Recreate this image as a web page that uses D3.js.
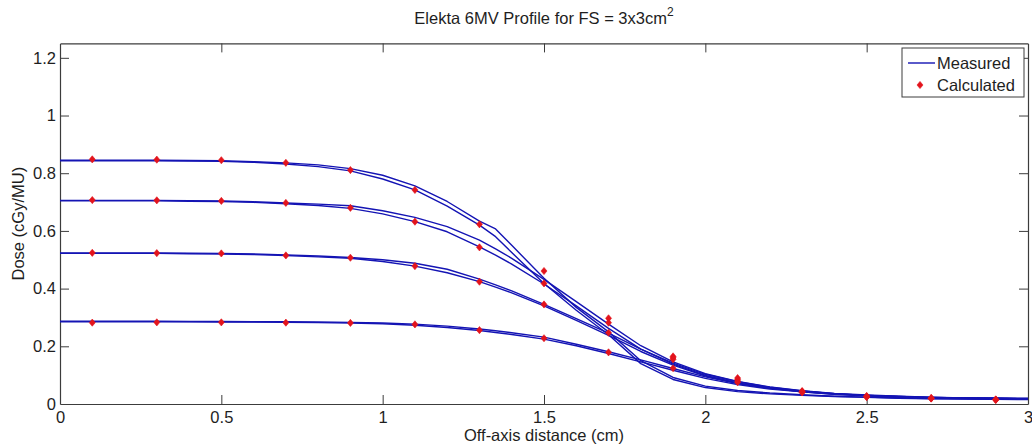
<!DOCTYPE html>
<html>
<head>
<meta charset="utf-8">
<script src="https://cdn.jsdelivr.net/npm/d3@7"></script>
<style>
  html, body { margin: 0; padding: 0; background: #fff; }
  svg { display: block; font-family: "Liberation Sans", Arial, sans-serif; }
</style>
</head>
<body>
<svg id="chart" width="1032" height="447"></svg>
<script>
// Off-axis sampling positions of the measured profiles (cm)
const measuredX = [0, 0.1, 0.2, 0.3, 0.4, 0.5, 0.6, 0.7, 0.8, 0.9, 1.0, 1.1, 1.2, 1.3, 1.35, 1.4, 1.5,
                   1.6, 1.7, 1.8, 1.9, 2.0, 2.1, 2.2, 2.3, 2.4, 2.5, 2.6, 2.7, 2.8, 2.9, 3.0];

// Measured dose profiles (cGy/MU), two scans per depth
const measured1a = [0.845,0.845,0.845,0.845,0.844,0.843,0.840,0.836,0.829,0.816,0.793,0.756,0.702,0.634,0.607,0.550,0.436,
                    0.335,0.250,0.150,0.092,0.062,0.047,0.038,0.032,0.027,0.024,0.021,0.019,0.018,0.017,0.016];
const measured1b = [0.843,0.843,0.843,0.843,0.842,0.841,0.838,0.832,0.823,0.808,0.780,0.742,0.686,0.620,0.580,0.525,0.418,
                    0.325,0.240,0.140,0.085,0.057,0.043,0.035,0.030,0.026,0.023,0.020,0.018,0.017,0.016,0.015];
const measured2a = [0.706,0.706,0.706,0.706,0.705,0.704,0.701,0.697,0.693,0.687,0.670,0.647,0.615,0.568,0.538,0.505,0.432,
                    0.355,0.277,0.202,0.146,0.105,0.078,0.059,0.046,0.037,0.031,0.027,0.024,0.021,0.020,0.019];
const measured2b = [0.704,0.704,0.704,0.704,0.703,0.702,0.699,0.694,0.688,0.678,0.659,0.632,0.597,0.545,0.516,0.485,0.416,
                    0.340,0.262,0.190,0.138,0.099,0.073,0.055,0.043,0.035,0.029,0.025,0.022,0.020,0.019,0.018];
const measured3a = [0.524,0.524,0.524,0.524,0.523,0.522,0.520,0.517,0.513,0.508,0.500,0.488,0.467,0.433,0.413,0.392,0.345,
                    0.296,0.246,0.190,0.142,0.103,0.077,0.058,0.045,0.036,0.030,0.026,0.023,0.021,0.020,0.019];
const measured3b = [0.522,0.522,0.522,0.522,0.521,0.520,0.518,0.515,0.510,0.505,0.494,0.478,0.455,0.424,0.405,0.385,0.340,
                    0.290,0.238,0.182,0.135,0.097,0.072,0.054,0.042,0.034,0.028,0.024,0.021,0.020,0.019,0.018];
const measured4a = [0.287,0.287,0.287,0.287,0.286,0.286,0.285,0.285,0.284,0.283,0.281,0.277,0.270,0.260,0.254,0.247,0.232,
                    0.207,0.181,0.153,0.123,0.094,0.071,0.055,0.044,0.036,0.030,0.026,0.023,0.021,0.020,0.019];
const measured4b = [0.285,0.285,0.285,0.285,0.285,0.284,0.284,0.283,0.282,0.281,0.278,0.273,0.265,0.255,0.248,0.241,0.225,
                    0.202,0.175,0.146,0.117,0.089,0.067,0.052,0.042,0.034,0.028,0.024,0.021,0.019,0.018,0.017];

// Calculated dose points (cGy/MU)
const calcX = [0.1, 0.3, 0.5, 0.7, 0.9, 1.1, 1.3, 1.5, 1.7, 1.9, 2.1, 2.3, 2.5, 2.7, 2.9];
const calculated1 = [0.848,0.847,0.845,0.836,0.811,0.742,0.623,0.461,0.297,0.165,0.090,0.045,0.028,0.021,0.016];
const calculated2 = [0.707,0.706,0.704,0.697,0.680,0.632,0.543,0.418,0.282,0.160,0.085,0.043,0.026,0.020,0.015];
const calculated3 = [0.524,0.523,0.522,0.515,0.507,0.478,0.424,0.345,0.247,0.155,0.080,0.041,0.025,0.019,0.015];
const calculated4 = [0.282,0.283,0.283,0.282,0.281,0.276,0.256,0.228,0.179,0.124,0.075,0.040,0.024,0.019,0.014];

// Axis ticks
const xTicks = [0, 0.5, 1, 1.5, 2, 2.5, 3];
const xTickLabels = ["0", "0.5", "1", "1.5", "2", "2.5", "3"];
const yTicks = [0, 0.2, 0.4, 0.6, 0.8, 1, 1.2];
const yTickLabels = ["0", "0.2", "0.4", "0.6", "0.8", "1", "1.2"];

const titleText = "Elekta 6MV Profile for FS = 3x3cm";
const xLabel = "Off-axis distance (cm)";
const yLabel = "Dose (cGy/MU)";
const legendLabels = ["Measured", "Calculated"];

const measuredSeries = [measured1a, measured1b, measured2a, measured2b,
                        measured3a, measured3b, measured4a, measured4b];
const calculatedSeries = [calculated1, calculated2, calculated3, calculated4];

const lineColor = "#1414b4";
const markerColor = "#e3141c";
const axisColor = "#3c3c3c";
const textColor = "#1e1e1e";

const svg = d3.select("#chart");
const plotL = 60, plotR = 1028, plotT = 43.4, plotB = 404;

const x = d3.scaleLinear().domain([0, 3]).range([plotL, plotR]);
const y = d3.scaleLinear().domain([0, 1.25]).range([plotB, plotT]);

// Plot area clip
svg.append("defs").append("clipPath").attr("id", "plotClip")
  .append("rect").attr("x", plotL).attr("y", plotT)
  .attr("width", plotR - plotL).attr("height", plotB - plotT);

// Axes (ticks point inward, box style)
const fmtX = (d) => xTickLabels[xTicks.indexOf(d)];
const fmtY = (d) => yTickLabels[yTicks.indexOf(d)];

const gx = svg.append("g").attr("transform", `translate(0,${plotB})`)
  .call(d3.axisBottom(x).tickValues(xTicks).tickFormat(fmtX).tickSizeInner(-9).tickSizeOuter(0).tickPadding(7));
const gxTop = svg.append("g").attr("transform", `translate(0,${plotT})`)
  .call(d3.axisTop(x).tickValues(xTicks).tickFormat("").tickSizeInner(-9).tickSizeOuter(0));
const gy = svg.append("g").attr("transform", `translate(${plotL},0)`)
  .call(d3.axisLeft(y).tickValues(yTicks).tickFormat(fmtY).tickSizeInner(-9).tickSizeOuter(0).tickPadding(4));
const gyRight = svg.append("g").attr("transform", `translate(${plotR},0)`)
  .call(d3.axisRight(y).tickValues(yTicks).tickFormat("").tickSizeInner(-9).tickSizeOuter(0));

[gx, gxTop, gy, gyRight].forEach(g => {
  g.selectAll(".domain").attr("stroke", axisColor).attr("stroke-width", 1.2);
  g.selectAll(".tick line").attr("stroke", axisColor).attr("stroke-width", 1);
  g.selectAll(".tick text").attr("fill", textColor).attr("font-size", 16.5)
    .attr("font-family", "Liberation Sans, Arial, sans-serif");
});
// drop end ticks that coincide with the frame
gx.selectAll(".tick").filter(d => d === 0 || d === 3).select("line").remove();
gxTop.selectAll(".tick").filter(d => d === 0 || d === 3).select("line").remove();
gy.selectAll(".tick").filter(d => d === 0).select("line").remove();
gyRight.selectAll(".tick").filter(d => d === 0).select("line").remove();

// Measured profiles
const line = d3.line().x((d, i) => x(measuredX[i])).y(d => y(d));
svg.append("g").attr("clip-path", "url(#plotClip)")
  .selectAll("path").data(measuredSeries).join("path")
  .attr("d", d => line(d))
  .attr("fill", "none").attr("stroke", lineColor)
  .attr("stroke-width", 1.4).attr("stroke-linejoin", "round");

// Calculated points
const diamond = "M0,-3.6L3,0L0,3.6L-3,0Z";
const pts = [];
calculatedSeries.forEach(s => s.forEach((v, i) => pts.push([calcX[i], v])));
svg.append("g").selectAll("path").data(pts).join("path")
  .attr("d", diamond)
  .attr("transform", d => `translate(${x(d[0])},${y(d[1])})`)
  .attr("fill", markerColor).attr("stroke", markerColor).attr("stroke-width", 0.6);

// Title
const title = svg.append("text").attr("x", 544).attr("y", 24)
  .attr("text-anchor", "middle").attr("font-size", 16.5).attr("fill", textColor);
title.append("tspan").text(titleText);
title.append("tspan").attr("dy", -8).attr("font-size", 12).text("2");

// Axis labels
svg.append("text").attr("x", 544).attr("y", 441).attr("text-anchor", "middle")
  .attr("font-size", 16.5).attr("fill", textColor).text(xLabel);
svg.append("text").attr("transform", `translate(24,${(plotT + plotB) / 2}) rotate(-90)`)
  .attr("text-anchor", "middle").attr("font-size", 16.5).attr("fill", textColor).text(yLabel);

// Legend
const lg = svg.append("g");
lg.append("rect").attr("x", 902).attr("y", 48).attr("width", 122).attr("height", 49)
  .attr("fill", "#fff").attr("stroke", axisColor).attr("stroke-width", 1);
lg.append("line").attr("x1", 908).attr("x2", 935).attr("y1", 63).attr("y2", 63)
  .attr("stroke", lineColor).attr("stroke-width", 1.4);
lg.append("path").attr("d", diamond).attr("transform", "translate(920,85)")
  .attr("fill", markerColor).attr("stroke", markerColor).attr("stroke-width", 0.6);
lg.selectAll("text.lbl").data(legendLabels).join("text").attr("class", "lbl")
  .attr("x", 937).attr("y", (d, i) => 69 + i * 22)
  .attr("font-size", 16.5).attr("fill", textColor).text(d => d);
</script>
</body>
</html>
